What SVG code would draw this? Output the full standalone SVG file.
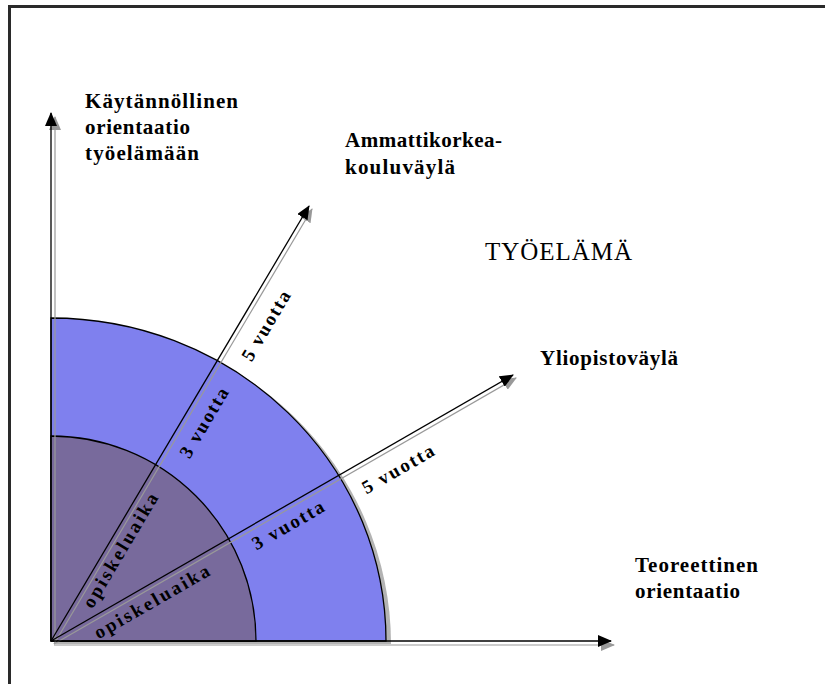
<svg xmlns="http://www.w3.org/2000/svg" width="825" height="684" viewBox="0 0 825 684">
<style>
.lbl{font-family:"Liberation Serif","DejaVu Serif",serif;font-size:21px;font-weight:bold;fill:#000}
.rot{font-family:"Liberation Serif","DejaVu Serif",serif;font-size:19px;font-weight:bold;fill:#000}
.big{font-family:"Liberation Serif","DejaVu Serif",serif;font-size:25px;fill:#000}
.ln{stroke:#000;stroke-width:1.3;fill:none}
.sh{stroke:#999;stroke-width:1.2;fill:none}
.arc{stroke:#000;stroke-width:1.3}
</style>
<defs>
<marker id="ah" viewBox="0 0 14 12" refX="13" refY="6" markerWidth="14" markerHeight="12" markerUnits="userSpaceOnUse" orient="auto">
<path d="M0,0 L14,6 L0,12 Z" fill="#000"/>
</marker>
<marker id="ahs" viewBox="0 0 14 12" refX="13" refY="6" markerWidth="14" markerHeight="12" markerUnits="userSpaceOnUse" orient="auto">
<path d="M0,0 L14,6 L0,12 Z" fill="#999"/>
</marker>
</defs>
<rect width="825" height="684" fill="#fff"/>
<g id="frame">
<line x1="8" y1="6.5" x2="825" y2="6.5" stroke="#2a2a2a" stroke-width="3"/>
<line x1="9.5" y1="5" x2="9.5" y2="684" stroke="#2a2a2a" stroke-width="3"/>
</g>
<g id="study-areas">
<path d="M56,644 L56,321 A335,323 0 0 1 391,644 Z" fill="#b3b3b3"/>
<path id="outer" d="M51,641 L51,318 A335,323 0 0 1 386,641 Z" fill="#7f80ee" class="arc"/>
<path id="inner" d="M51,641 L51,436 A205,205 0 0 1 256,641 Z" fill="#786a9c" class="arc"/>
</g>
<g id="connectors">
<line class="sh" x1="55" y1="644" x2="55" y2="117" marker-end="url(#ahs)"/>
<line class="sh" x1="54" y1="645" x2="614" y2="645" marker-end="url(#ahs)"/>
<line class="sh" x1="54" y1="644" x2="312" y2="209" marker-end="url(#ahs)"/>
<line class="sh" x1="54" y1="644" x2="516" y2="378" marker-end="url(#ahs)"/>
<line class="ln" x1="51" y1="641" x2="51" y2="113" marker-end="url(#ah)"/>
<line class="ln" x1="51" y1="641" x2="611" y2="641" marker-end="url(#ah)"/>
<line class="ln" x1="51" y1="641" x2="309" y2="206" marker-end="url(#ah)"/>
<line class="ln" x1="51" y1="641" x2="513" y2="375" marker-end="url(#ah)"/>
</g>
<g id="label-kaytannollinen">
<text class="lbl" x="85" y="108" textLength="153">Käytännöllinen</text>
<text class="lbl" x="85" y="134" textLength="105">orientaatio</text>
<text class="lbl" x="85" y="160" textLength="114">työelämään</text>
</g>
<g id="label-amk">
<text class="lbl" x="345" y="147" textLength="157">Ammattikorkea-</text>
<text class="lbl" x="345" y="174" textLength="110">kouluväylä</text>
</g>
<g id="label-tyoelama">
<text class="big" x="485" y="260" textLength="147">TYÖELÄMÄ</text>
</g>
<g id="label-yliopisto">
<text class="lbl" x="540" y="365" textLength="138">Yliopistoväylä</text>
</g>
<g id="label-teoreettinen">
<text class="lbl" x="635" y="572" textLength="123">Teoreettinen</text>
<text class="lbl" x="635" y="598" textLength="105">orientaatio</text>
</g>
<g id="duration-labels">
<text class="rot" transform="translate(92.5,609.5) rotate(-59.3)" textLength="130">opiskeluaika</text>
<text class="rot" transform="translate(98.5,639.5) rotate(-29.9)" textLength="130">opiskeluaika</text>
<text class="rot" transform="translate(189.5,459.5) rotate(-59.3)" textLength="78">3 vuotta</text>
<text class="rot" transform="translate(251.5,362.5) rotate(-59.3)" textLength="78">5 vuotta</text>
<text class="rot" transform="translate(256.5,550.5) rotate(-29.9)" textLength="80">3 vuotta</text>
<text class="rot" transform="translate(366.5,494.5) rotate(-29.9)" textLength="80">5 vuotta</text>
</g>
</svg>
